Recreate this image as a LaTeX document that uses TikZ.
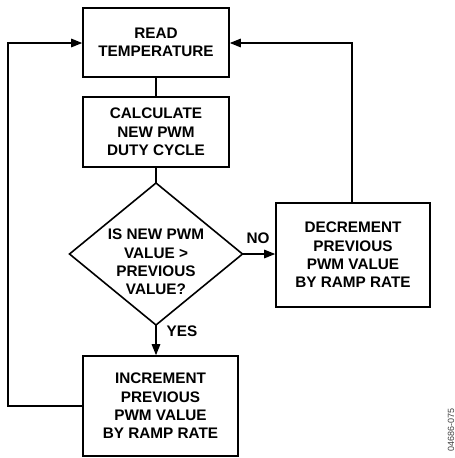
\documentclass[tikz,border=0pt]{standalone}
\usepackage{fontspec}
\setmainfont{Liberation Sans}
\usetikzlibrary{arrows.meta}
\begin{document}
\begin{tikzpicture}[x=1pt,y=-1pt,
  every node/.style={font=\bfseries\fontsize{15.3}{18.3}\selectfont, align=center, inner sep=0pt},
  boxnode/.style={draw, line width=1.6pt, minimum width=#1},
  conn/.style={line width=1.4pt},
  arr/.style={conn, -{Triangle[length=11pt,width=8.5pt]}}]
\useasboundingbox (0,0) rectangle (455,458);
% boxes
\node[boxnode=146pt, minimum height=69pt] (read) at (156,42.5) {READ\\TEMPERATURE};
\node[boxnode=146pt, minimum height=70pt] (calc) at (156,132) {CALCULATE\\NEW PWM\\DUTY CYCLE};
\draw[line width=1.6pt] (156,183) coordinate (dtop) -- (242.5,254) coordinate (dright)
  -- (156,325) coordinate (dbot) -- (69.5,254) coordinate (dleft) -- cycle;
\node (dtext) at (156,262) {IS NEW PWM\\VALUE >\\PREVIOUS\\VALUE?};
\node[boxnode=154pt, minimum height=104pt] (dec) at (353,255) {DECREMENT\\PREVIOUS\\PWM VALUE\\BY RAMP RATE};
\node[boxnode=155pt, minimum height=100pt] (inc) at (160.5,406) {INCREMENT\\PREVIOUS\\PWM VALUE\\BY RAMP RATE};
% connectors
\draw[conn] (read.south) -- (calc.north);
\draw[conn] (calc.south) -- (dtop);
\draw[arr] (dright) -- (dec.west |- dright);
\draw[arr] (dbot) -- (inc.north -| dbot);
\coordinate (rtop) at (352,43);
\draw[arr] (dec.north -| rtop) -- (rtop) -- (read.east |- rtop);
\coordinate (lbot) at (8,406);
\coordinate (ltop) at (8,43);
\draw[arr] (inc.west |- lbot) -- (lbot) -- (ltop) -- (read.west |- ltop);
% labels
\node (no) at (258,238) {NO};
\node (yes) at (182,331) {YES};
\node[font=\fontsize{9}{10}\selectfont, text=black!75, rotate=90] (fig) at (451,430) {04686-075};
\end{tikzpicture}
\end{document}
